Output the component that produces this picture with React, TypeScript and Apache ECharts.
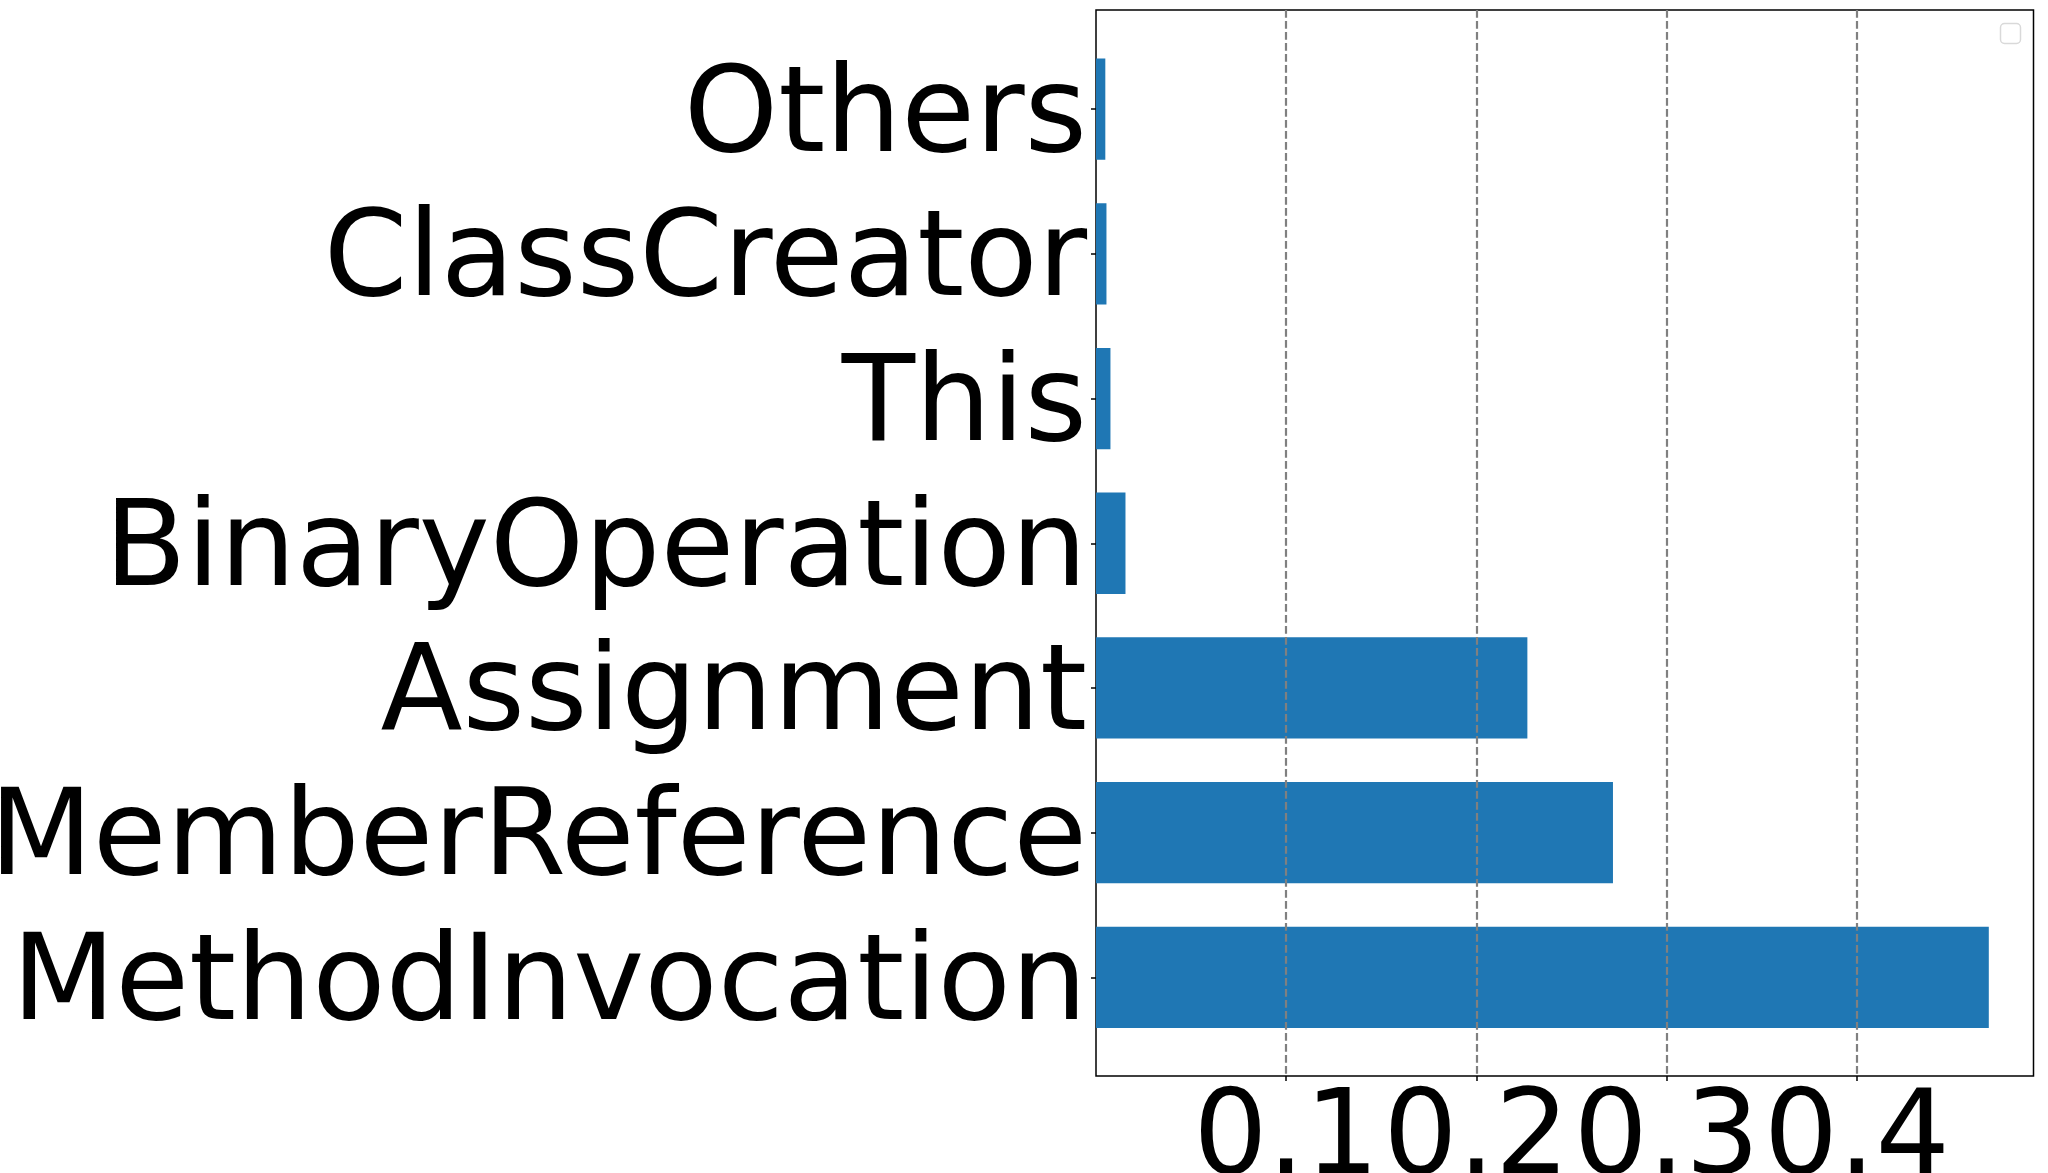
import React, { useEffect, useRef } from "react";
import * as echarts from "echarts";

const categories = [
  "MethodInvocation",
  "MemberReference",
  "Assignment",
  "BinaryOperation",
  "This",
  "ClassCreator",
  "Others",
];
const values = [0.4694, 0.2718, 0.2268, 0.0155, 0.0076, 0.0055, 0.0049];
const xTicks = [0.1, 0.2, 0.3, 0.4];
const xMax = 0.4929;

const FONT = "DejaVu Sans";
const FONT_SIZE = 120;

export default function App() {
  const ref = useRef<HTMLDivElement>(null);
  useEffect(() => {
    if (!ref.current) return;
    const chart = echarts.init(ref.current, undefined, { renderer: "svg" });
    const left = 1096;
    const right = 2048 - 2033.5;
    chart.setOption({
      animation: false,
      backgroundColor: "#ffffff",
      grid: [
        {
          left,
          right,
          top: 10,
          bottom: 1173 - 1076,
          show: true,
          borderColor: "#000000",
          borderWidth: 1.5,
          backgroundColor: "transparent",
          containLabel: false,
          outerBoundsMode: "none",
        },
        {
          left,
          right,
          top: 36.9,
          bottom: 123.4,
          containLabel: false,
          outerBoundsMode: "none",
        },
      ],
      xAxis: [
        {
          type: "value",
          gridIndex: 0,
          min: 0,
          max: xMax,
          interval: 0.1,
          z: 10,
          axisLine: { show: false },
          axisTick: {
            show: true,
            length: 5,
            customValues: xTicks,
            lineStyle: { color: "#000", width: 1.5 },
          },
          axisLabel: {
            show: true,
            customValues: xTicks,
            hideOverlap: false,
            fontFamily: FONT,
            fontSize: 117,
            color: "#000",
            margin: -2,
            formatter: (v: number) => v.toFixed(1),
          },
          splitLine: {
            show: true,
            lineStyle: { color: "#808080", type: [7.7, 3.3], width: 2.2 },
          },
        },
        {
          type: "value",
          gridIndex: 1,
          min: 0,
          max: xMax,
          show: false,
        },
      ],
      yAxis: [
        {
          type: "value",
          gridIndex: 0,
          show: false,
          min: 0,
          max: 1,
        },
        {
          type: "category",
          gridIndex: 1,
          data: categories,
          axisLine: { show: false },
          axisTick: {
            show: true,
            alignWithLabel: true,
            interval: 0,
            length: 5,
            lineStyle: { color: "#000", width: 1.5 },
          },
          axisLabel: {
            interval: 0,
            hideOverlap: false,
            fontFamily: FONT,
            fontSize: FONT_SIZE,
            color: "#000",
            margin: 9,
          },
          splitLine: { show: false },
        },
      ],
      legend: { show: false },
      series: [
        {
          type: "bar",
          xAxisIndex: 1,
          yAxisIndex: 1,
          data: values,
          barWidth: "70%",
          itemStyle: { color: "#1f77b4" },
          z: 2,
        },
      ],
      graphic: [
        {
          type: "rect",
          shape: { x: 2000.5, y: 23.5, width: 20, height: 20, r: 4 },
          style: { fill: "#ffffff", stroke: "#d9d9d9", lineWidth: 1.5 },
          z: 20,
        },
      ],
    });
    return () => chart.dispose();
  }, []);
  return (
    <div
      ref={ref}
      style={{ position: "fixed", left: 0, top: 0, width: 2048, height: 1173 }}
    />
  );
}
